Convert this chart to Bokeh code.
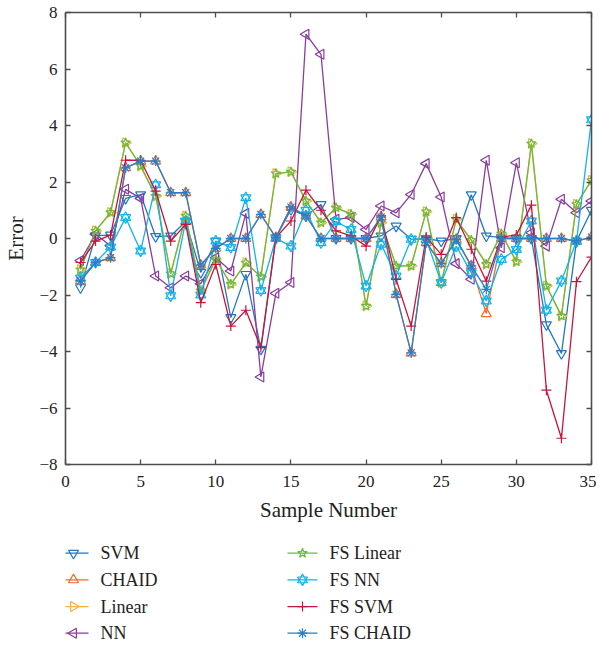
import math
from bokeh.plotting import figure
from bokeh.layouts import column
from bokeh.core.properties import value
from bokeh.models import LinearAxis, Range1d, FixedTicker, CustomJSTickFormatter
from bokeh.embed import file_html
from bokeh.resources import INLINE

sample = list(range(1, 36))
x_ticks = [0, 5, 10, 15, 20, 25, 30, 35]
y_ticks = [-8, -6, -4, -2, 0, 2, 4, 6, 8]

svm = [-1.74, 0.10, 0.12, 1.42, 1.55, 0.07, 0.09, 0.60, -1.20, -0.10, -2.80, -1.27, -3.92, 0.03, 1.03,
       0.80, 1.20, 0.00, 0.00, 0.00, 0.09, 0.44, -0.03, 0.00, -0.09, 0.00, 1.55, 0.09, 0.03, 0.00,
       0.00, -3.05, -4.07, -0.10, 1.00]
chaid = [-1.50, -0.85, -0.68, 2.50, 2.74, 2.74, 1.62, 1.62, -0.94, -0.35, 0.00, 0.00, 0.85, 0.03, 1.11,
         0.80, 0.00, 0.00, 0.00, 0.00, 0.76, -1.98, -4.05, -0.15, -0.89, -0.03, -0.97, -2.66, 0.00, 0.00,
         0.00, 0.00, 0.00, -0.09, 0.05]
linear = [-1.10, 0.27, 0.92, 3.39, 2.57, 1.50, -1.24, 0.80, -1.85, -0.74, -1.62, -0.86, -1.35, 2.30, 2.36,
          1.33, 0.56, 1.09, 0.86, -2.39, 0.56, -0.97, -0.97, 0.95, -1.56, 0.68, -0.06, -0.91, 0.17, -0.82,
          3.36, -1.68, -2.74, 1.21, 2.06]
nn = [-0.78, 0.15, -0.26, 1.74, 1.42, -1.33, -1.74, -1.33, -1.60, -0.68, -1.15, 0.89, -4.90, -1.94, -1.56,
      7.23, 6.52, 0.68, 0.74, 0.32, 1.15, 0.91, 1.56, 2.65, 1.47, -0.89, -1.44, 2.77, -0.33, 2.68,
      0.20, -0.27, 1.39, 0.91, 1.33]
fs_linear = [-1.10, 0.27, 0.92, 3.39, 2.57, 1.50, -1.24, 0.80, -1.85, -0.74, -1.62, -0.86, -1.35, 2.30, 2.36,
             1.33, 0.56, 1.09, 0.86, -2.39, 0.56, -0.97, -0.97, 0.95, -1.56, 0.68, -0.06, -0.91, 0.17, -0.82,
             3.36, -1.68, -2.74, 1.21, 2.06]
fs_nn = [-1.40, -0.85, -0.30, 0.74, -0.44, 1.90, -2.03, 0.62, -2.00, -0.09, -0.32, 1.44, -1.84, 0.00, -0.27,
         1.00, -0.15, 0.60, 0.32, -1.68, -0.20, -1.33, -0.03, -0.03, -1.56, -0.27, -1.21, -2.21, -0.74, -0.39,
         0.62, -2.54, -1.50, -0.10, 4.20]
fs_svm = [-0.85, -0.09, 0.12, 2.77, 2.77, 1.68, -0.09, 0.50, -2.27, -0.92, -3.10, -2.54, -3.86, 0.03, 0.62,
          1.71, 1.00, 0.27, 0.09, -0.27, 0.80, -1.45, -3.10, 0.05, -0.56, 0.74, -0.38, -1.51, 0.05, 0.12,
          1.18, -5.37, -7.07, -1.53, -0.66]
fs_chaid = [-1.50, -0.85, -0.68, 2.50, 2.74, 2.74, 1.62, 1.62, -0.94, -0.35, 0.00, 0.00, 0.85, 0.03, 1.11,
            0.80, 0.00, 0.00, 0.00, 0.00, 0.76, -1.98, -4.05, -0.15, -0.89, -0.03, -0.97, -1.80, 0.00, 0.00,
            0.00, 0.00, 0.00, -0.09, 0.05]

series = [
    ("SVM", svm, "#1f77c4", ["inverted_triangle"], 0.0),
    ("CHAID", chaid, "#f26a2a", ["triangle"], 0.0),
    ("Linear", linear, "#f5b23c", ["triangle"], -math.pi / 2),
    ("NN", nn, "#8a3c9e", ["triangle"], math.pi / 2),
    ("FS Linear", fs_linear, "#6cbb3c", ["star"], 0.0),
    ("FS NN", fs_nn, "#10b3ea", ["triangle", "inverted_triangle"], 0.0),
    ("FS SVM", fs_svm, "#c8143c", ["cross"], 0.0),
    ("FS CHAID", fs_chaid, "#2a7dc8", ["asterisk"], 0.0),
]

FONT = "Liberation Serif"
AX = "#4d4d4d"
TXT = "#222222"
LEFT, RIGHT = 65, 5


def draw(fig, xs, ys, color, markers, ang, mx=None, my=None):
    fig.line(xs, ys, line_color=color, line_width=1.3)
    if mx is None:
        mx, my = xs, ys
    for m in markers:
        fig.scatter(mx, my, marker=m, size=10, angle=ang, line_color=color,
                    fill_color=None, line_width=1.2)


# ---- main chart ----
p = figure(width=596, height=535, x_range=Range1d(0, 35), y_range=Range1d(-8, 8),
           output_backend="svg", toolbar_location=None,
           min_border_left=LEFT, min_border_right=RIGHT, min_border_top=12, min_border_bottom=71)
p.outline_line_color = None
p.xgrid.visible = False
p.ygrid.visible = False

xb = p.xaxis[0]
yl = p.yaxis[0]
xb.ticker = FixedTicker(ticks=x_ticks)
yl.ticker = FixedTicker(ticks=y_ticks)
xb.axis_label = "Sample Number"
yl.axis_label = "Error"

blank = CustomJSTickFormatter(code="return ''")
top = LinearAxis(ticker=FixedTicker(ticks=x_ticks), formatter=blank,
                 major_label_text_font_size="1px", major_label_standoff=0)
right = LinearAxis(ticker=FixedTicker(ticks=y_ticks), formatter=blank,
                   major_label_text_font_size="1px", major_label_standoff=0)
p.add_layout(top, "above")
p.add_layout(right, "right")

for ax in [xb, yl, top, right]:
    ax.axis_line_color = AX
    ax.axis_line_width = 1.6
    ax.major_tick_line_color = AX
    ax.major_tick_line_width = 1.3
    ax.major_tick_in = 5
    ax.major_tick_out = 0
    ax.minor_tick_line_color = None

for ax in [xb, yl]:
    ax.major_label_text_font = FONT
    ax.major_label_text_color = TXT
    ax.axis_label_text_font = FONT
    ax.axis_label_text_font_style = "normal"
    ax.axis_label_text_color = TXT
    ax.major_label_text_font_size = "17px"
    ax.axis_label_text_font_size = "21px"
xb.major_label_standoff = 11
xb.axis_label_standoff = 8
yl.major_label_standoff = 8
yl.axis_label_standoff = 8

for name, data, color, markers, ang in series:
    draw(p, sample, data, color, markers, ang)

# ---- legend strip below the chart (two columns of four keys) ----
LEG_H = 110
pl = figure(width=596, height=LEG_H,
            x_range=Range1d(-LEFT, 596 - LEFT - RIGHT - LEFT + 0), y_range=Range1d(LEG_H, 0),
            x_axis_type=None, y_axis_type=None, output_backend="svg", toolbar_location=None,
            min_border_left=LEFT, min_border_right=RIGHT, min_border_top=0, min_border_bottom=0)
# frame spans page pixels LEFT..596-RIGHT, so x-range start -LEFT maps page pixel 0 to 0 ... adjusted below
pl.x_range.start = 0 - 0
pl.x_range.end = 596 - LEFT - RIGHT
pl.outline_line_color = None
pl.grid.visible = False

# legend key positions expressed relative to the frame's left edge
col_x = [58 - LEFT, 287 - LEFT]
row0, row_step, key_w, gap = 17.7, 26.67, 30, 12
for i, (name, data, color, markers, ang) in enumerate(series):
    cx = col_x[i // 4]
    ry = row0 + row_step * (i % 4)
    draw(pl, [cx, cx + key_w], [ry, ry], color, markers, ang,
         mx=[cx + key_w / 2], my=[ry])
    pl.text([cx + key_w + gap], [ry], text=[name], text_font=value(FONT),
            text_font_size="18px", text_baseline="middle", text_align="left",
            text_color=TXT)

layout = column(p, pl, spacing=0)
open("out.html", "w").write(file_html(layout, INLINE))
